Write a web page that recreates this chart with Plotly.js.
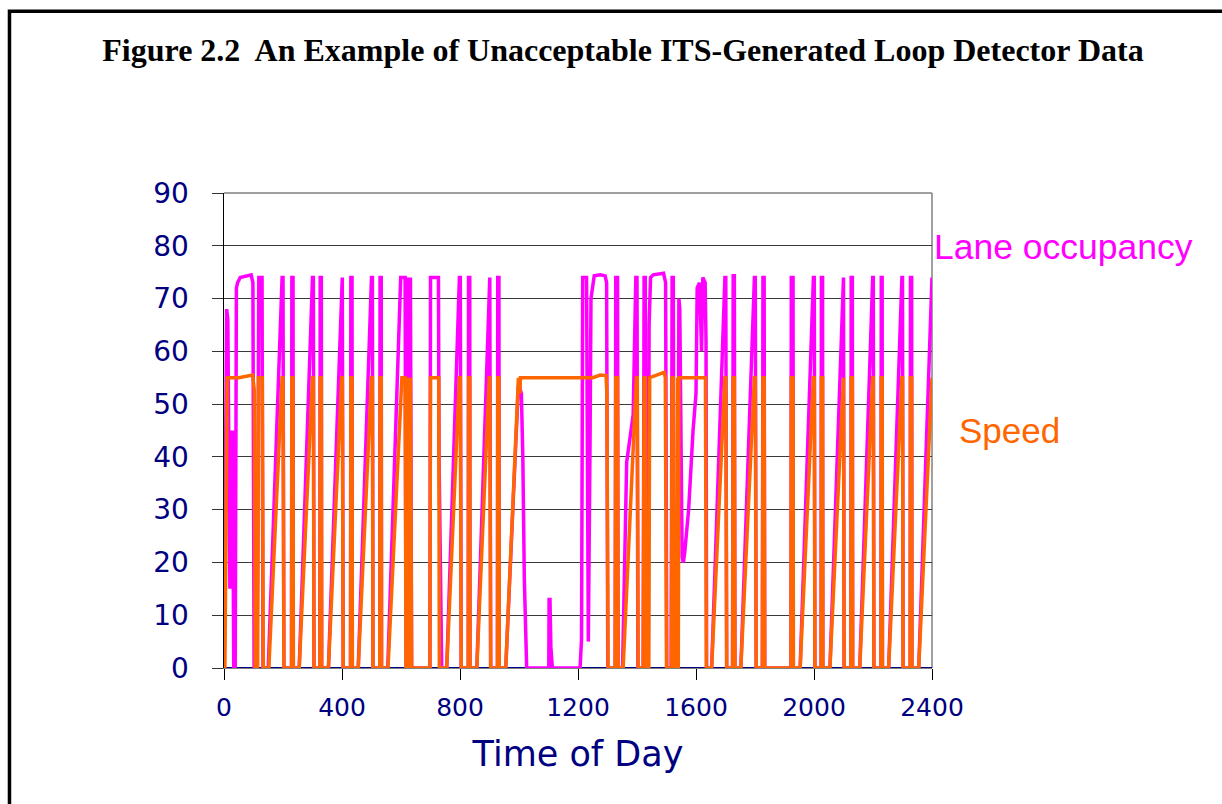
<!DOCTYPE html>
<html>
<head>
<meta charset="utf-8">
<script src="https://cdn.plot.ly/plotly-3.0.1.min.js"></script>
<style>
html,body{margin:0;padding:0;background:#fff;}
#chart{width:1222px;height:804px;}
</style>
</head>
<body>
<div id="chart"></div>
<script>
// Time of day (HHMM) and lane occupancy (%)
const occTime = [0,9,13,20,23,26,29,33,38,42,46,55,92,98,102,
  110,114,118,129,132,
  150,197,200,203,229,230,234,235,
  255,300,303,305,325,326,330,331,
  354,399,401,404,429,430,434,435,
  455,500,503,505,528,529,533,534,
  555,599,614,617,620,623,626,629,632,636,
  698,700,727,729,734,738,
  755,798,801,804,828,829,833,834,
  857,899,901,904,927,928,932,933,
  955,998,1003,1008,1013,1018,1022,1026,
  1101,1102,1105,1108,1113,
  1207,1212,1216,1229,1235,1241,1244,1255,1275,1292,1297,1301,
  1326,1328,1334,1336,
  1351,1365,1387,1396,1400,1403,
  1421,1424,1428,1431,1438,1441,1446,1455,1490,1497,1501,
  1516,1519,1523,1526,1538,1542,1545,1549,1553,1557,1562,1575,1590,1600,1604,1612,1619,1623,1631,1634,1636,
  1653,1698,1701,1704,1724,1726,1730,1732,
  1752,1798,1801,1804,1825,1827,1831,1833,
  1922,1923,1929,1930,
  1953,1998,2001,2003,2024,2025,2029,2030,
  2054,2098,2100,2102,2125,2126,2130,2131,
  2155,2199,2201,2203,2227,2228,2231,2232,
  2253,2298,2300,2302,2326,2327,2331,2332,
  2355,2400];
const occValue = [0,68,66,15,45,15,45,0,0,72,73,74,74.5,73,0,
  0,17,74,74,0,
  0,74,74,0,0,74,74,0,
  0,74,74,0,0,74,74,0,
  0,74,74,0,0,74,74,0,
  0,74,74,0,0,74,74,0,
  0,74,74,0,74,0,74,0,74,0,
  0,74,74,40,16,0,
  0,74,74,0,0,74,74,0,
  0,74,74,0,0,74,74,0,
  0,53.6,53,52,40,17,8,0,
  0,13,13,4,0,
  0,5.5,74,74,5,44,70,74.3,74.5,74.3,73,0,
  0,74,74,0,
  0,39,48,74,74,0,
  0,74,74,0,0,65,74,74.5,74.8,73,0,
  0,74,74,0,0,70,68,35,21,20,22,30,45,52,72,73,60,74,73,62,0,
  0,74,74,0,0,74.3,74.3,0,
  0,74,74,0,0,74,74,0,
  0,74,74,0,
  0,74,74,0,0,74,74,0,
  0,74,74,0,0,74,74,0,
  0,74,74,0,0,74,74,0,
  0,74,74,0,0,74,74,0,
  0,74];

// Time of day (HHMM) and speed (mph)
const speedTime = [0,3,11,50,97,101,103,106,
  114,117,130,133,
  152,197,200,203,229,230,234,235,
  255,300,303,305,325,326,330,331,
  354,399,401,404,429,430,434,435,
  455,500,503,505,528,529,533,534,
  556,603,614,617,620,623,626,629,632,636,
  698,700,728,730,
  755,798,801,804,828,829,833,834,
  857,899,901,904,927,928,932,933,
  955,998,1001,1003,1005,1250,1275,1295,1298,1302,
  1326,1328,1334,1336,
  1353,1398,1401,1404,
  1421,1424,1428,1431,1440,1443,1470,1492,1496,1500,
  1516,1519,1523,1526,1535,1538,1540,1542,1632,1635,
  1653,1698,1701,1704,1724,1726,1730,1732,
  1752,1798,1801,1804,1825,1827,1831,1833,
  1922,1923,1929,1930,
  1953,1998,2001,2003,2024,2025,2029,2030,
  2054,2098,2100,2102,2125,2126,2130,2131,
  2155,2199,2201,2203,2227,2228,2231,2232,
  2253,2298,2300,2302,2326,2327,2331,2332,
  2355,2400];
const speedValue = [0,0,55,55,55.5,54,52.5,0,
  0,55,55,0,
  0,55,55,0,0,55,55,0,
  0,55,55,0,0,55,55,0,
  0,55,55,0,0,55,55,0,
  0,55,55,0,0,55,55,0,
  0,55,55,0,55,0,55,0,55,0,
  0,55,55,0,
  0,55,55,0,0,55,55,0,
  0,55,55,0,0,55,55,0,
  0,55,54,52,55,55,55.5,55.4,52,0,
  0,55,55,0,
  0,55,55,0,
  0,55,55,0,0,55,55.5,56,55,0,
  0,55,55,0,0,55,0,55,55,0,
  0,55,55,0,0,55,55,0,
  0,55,55,0,0,55,55,0,
  0,55,55,0,
  0,55,55,0,0,55,55,0,
  0,55,55,0,0,55,55,0,
  0,55,55,0,0,55,55,0,
  0,55,55,0,0,55,55,0,
  0,55];

// Third series, flat at zero all day
const baseTime = [0, 2400];
const baseValue = [0, 0];

const xTicks = [0, 400, 800, 1200, 1600, 2000, 2400];
const yTicks = [0, 10, 20, 30, 40, 50, 60, 70, 80, 90];

const titleText = 'Figure 2.2\u00a0 An Example of Unacceptable ITS-Generated Loop Detector Data';
const xTitle = 'Time of Day';
const occLabel = 'Lane occupancy';
const speedLabel = 'Speed';

const navy = '#000080';

const traces = [
  {x: baseTime, y: baseValue, type: 'scatter', mode: 'lines', line: {color: navy, width: 2}, hoverinfo: 'skip'},
  {x: occTime, y: occValue, type: 'scatter', mode: 'lines', name: occLabel, line: {color: '#FF00FF', width: 3.5}},
  {x: speedTime, y: speedValue, type: 'scatter', mode: 'lines', name: speedLabel, line: {color: '#FF6600', width: 3.5}}
];

const layout = {
  width: 1222, height: 804,
  margin: {l: 224, r: 290, t: 193, b: 136},
  paper_bgcolor: '#fff', plot_bgcolor: '#fff',
  showlegend: false,
  title: {
    text: titleText,
    font: {family: 'Liberation Serif, Times New Roman, serif', size: 32, color: '#000', weight: 'bold'},
    xref: 'container', yref: 'container', x: 0.5098, y: 0.9378, xanchor: 'center', yanchor: 'middle'
  },
  xaxis: {
    range: [0, 2400], tickvals: xTicks, ticktext: xTicks.map(String),
    showgrid: false, zeroline: false,
    showline: true, linecolor: '#808080', linewidth: 1,
    ticks: 'outside', ticklen: 11, tickcolor: '#000', tickwidth: 1,
    ticklabelstandoff: 6,
    tickfont: {family: 'DejaVu Sans, sans-serif', size: 25, color: navy},
    title: {text: xTitle, font: {family: 'DejaVu Sans, sans-serif', size: 35, color: navy}, standoff: 20},
    automargin: false
  },
  yaxis: {
    range: [0, 90], tickvals: yTicks, ticktext: yTicks.map(String),
    showgrid: true, gridcolor: '#3a3a3a', gridwidth: 1,
    zeroline: false,
    showline: true, linecolor: '#000', linewidth: 1.5,
    ticks: 'outside', ticklen: 11, tickcolor: '#333', tickwidth: 1,
    ticklabelstandoff: 17,
    tickfont: {family: 'DejaVu Sans, sans-serif', size: 28, color: navy},
    automargin: false
  },
  shapes: [
    {type: 'line', xref: 'paper', yref: 'paper', x0: 0, x1: 1, y0: 1, y1: 1, line: {color: '#808080', width: 1.5}, layer: 'between'},
    {type: 'line', xref: 'paper', yref: 'paper', x0: 1, x1: 1, y0: 0, y1: 1, line: {color: '#808080', width: 1.5}, layer: 'between'},
    {type: 'rect', xref: 'paper', yref: 'paper', x0: -0.3030, x1: 1.6, y0: -0.6, y1: 1.3825, line: {color: '#000', width: 3.5}, fillcolor: 'rgba(0,0,0,0)', layer: 'above'}
  ],
  annotations: [
    {text: occLabel, xref: 'paper', yref: 'paper', x: 0.9995, y: 0.887, xanchor: 'left', yanchor: 'middle', showarrow: false,
     font: {family: 'Liberation Sans, Arial, sans-serif', size: 35.5, color: '#FF00FF'}},
    {text: speedLabel, xref: 'paper', yref: 'paper', x: 1.035, y: 0.50, xanchor: 'left', yanchor: 'middle', showarrow: false,
     font: {family: 'Liberation Sans, Arial, sans-serif', size: 35, color: '#FF6600'}}
  ]
};

Plotly.newPlot('chart', traces, layout, {displayModeBar: false, staticPlot: true});
</script>
</body>
</html>
